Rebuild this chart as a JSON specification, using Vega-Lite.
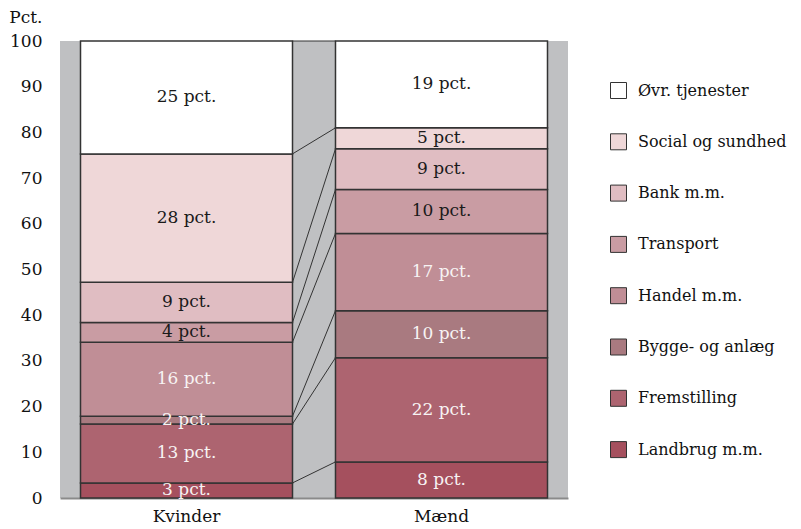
{
  "$schema": "https://vega.github.io/schema/vega-lite/v6.json",
  "autosize": "none",
  "width": 508,
  "height": 457,
  "padding": {"left": 60, "top": 41, "right": 233, "bottom": 31},
  "background": "white",
  "view": {"fill": "#bfc0c2", "stroke": null},
  "config": {
    "font": "DejaVu Serif",
    "axis": {"labelFont": "DejaVu Serif", "titleFont": "DejaVu Serif", "labelColor": "#111", "titleColor": "#111"},
    "legend": {"labelFont": "DejaVu Serif"},
    "text": {"font": "DejaVu Serif"}
  },
  "data": {
    "values": [
      {"gender": "Kvinder", "sector": "Landbrug m.m.", "value": 3.3, "label": 3},
      {"gender": "Kvinder", "sector": "Fremstilling", "value": 12.9, "label": 13},
      {"gender": "Kvinder", "sector": "Bygge- og anlæg", "value": 1.7, "label": 2},
      {"gender": "Kvinder", "sector": "Handel m.m.", "value": 16.2, "label": 16},
      {"gender": "Kvinder", "sector": "Transport", "value": 4.3, "label": 4},
      {"gender": "Kvinder", "sector": "Bank m.m.", "value": 8.8, "label": 9},
      {"gender": "Kvinder", "sector": "Social og sundhed", "value": 28.1, "label": 28},
      {"gender": "Kvinder", "sector": "Øvr. tjenester", "value": 24.7, "label": 25},
      {"gender": "Mænd", "sector": "Landbrug m.m.", "value": 7.9, "label": 8},
      {"gender": "Mænd", "sector": "Fremstilling", "value": 22.8, "label": 22},
      {"gender": "Mænd", "sector": "Bygge- og anlæg", "value": 10.3, "label": 10},
      {"gender": "Mænd", "sector": "Handel m.m.", "value": 16.9, "label": 17},
      {"gender": "Mænd", "sector": "Transport", "value": 9.6, "label": 10},
      {"gender": "Mænd", "sector": "Bank m.m.", "value": 8.9, "label": 9},
      {"gender": "Mænd", "sector": "Social og sundhed", "value": 4.6, "label": 5},
      {"gender": "Mænd", "sector": "Øvr. tjenester", "value": 19.0, "label": 19}
    ]
  },
  "transform": [
    {"calculate": "indexof(['Landbrug m.m.','Fremstilling','Bygge- og anlæg','Handel m.m.','Transport','Bank m.m.','Social og sundhed','Øvr. tjenester'], datum.sector)", "as": "rank"},
    {"stack": "value", "groupby": ["gender"], "sort": [{"field": "rank", "order": "ascending"}], "as": ["y0", "y1"]},
    {"calculate": "(datum.y0 + datum.y1) / 2", "as": "mid"},
    {"calculate": "datum.label + ' pct.'", "as": "txt"}
  ],
  "layer": [
    {
      "mark": {"type": "bar", "stroke": "#333333", "strokeWidth": 1.5},
      "encoding": {
        "x": {
          "field": "gender", "type": "nominal", "title": null,
          "scale": {"domain": ["Kvinder", "Mænd"], "paddingInner": 0.1686, "paddingOuter": 0.0804},
          "axis": {"labelAngle": 0, "labelFontSize": 17, "labelPadding": 10, "ticks": false, "domainColor": "#8a8a8a", "domainWidth": 2}
        },
        "y": {
          "field": "y0", "type": "quantitative", "title": "Pct.",
          "scale": {"domain": [0, 100], "nice": false},
          "axis": {"values": [0, 10, 20, 30, 40, 50, 60, 70, 80, 90, 100], "grid": false, "ticks": false, "domain": false, "labelFontSize": 17, "labelPadding": 18, "titleAngle": 0, "titleFontSize": 17, "titleFontWeight": "normal", "titleAlign": "right", "titleBaseline": "alphabetic", "titleX": -18, "titleY": -19}
        },
        "y2": {"field": "y1"},
        "color": {
          "field": "sector", "type": "nominal",
          "scale": {
            "domain": ["Øvr. tjenester", "Social og sundhed", "Bank m.m.", "Transport", "Handel m.m.", "Bygge- og anlæg", "Fremstilling", "Landbrug m.m."],
            "range": ["#ffffff", "#efd7d8", "#e0bdc2", "#c99ca3", "#c08e96", "#a97a80", "#ad6470", "#a5505e"]
          },
          "legend": {
            "title": null, "orient": "none", "legendX": 550, "legendY": 41, "padding": 0,
            "symbolType": "square", "symbolSize": 256, "symbolStrokeColor": "#333333", "symbolStrokeWidth": 1,
            "labelFontSize": 16, "labelColor": "#111", "labelOffset": 11, "rowPadding": 30.3, "labelLimit": 300
          }
        }
      }
    },
    {
      "transform": [
        {"pivot": "gender", "value": "y1", "groupby": ["sector"]},
        {"calculate": "'Kvinder'", "as": "g1"},
        {"calculate": "'Mænd'", "as": "g2"}
      ],
      "mark": {"type": "rule", "stroke": "#333333", "strokeWidth": 1},
      "encoding": {
        "x": {"field": "g1", "type": "nominal", "bandPosition": 1, "title": null},
        "x2": {"field": "g2", "bandPosition": 0},
        "y": {"field": "Kvinder", "type": "quantitative", "title": "Pct."},
        "y2": {"field": "Mænd"}
      }
    },
    {
      "mark": {"type": "text", "fontSize": 17, "baseline": "middle", "align": "center"},
      "encoding": {
        "x": {"field": "gender", "type": "nominal", "title": null},
        "y": {"field": "mid", "type": "quantitative", "title": "Pct."},
        "text": {"field": "txt"},
        "color": {
          "condition": {"test": "indexof(['Handel m.m.','Bygge- og anlæg','Fremstilling','Landbrug m.m.'], datum.sector) >= 0", "value": "#f7f3f3"},
          "value": "#1a1a1a"
        }
      }
    }
  ]
}
